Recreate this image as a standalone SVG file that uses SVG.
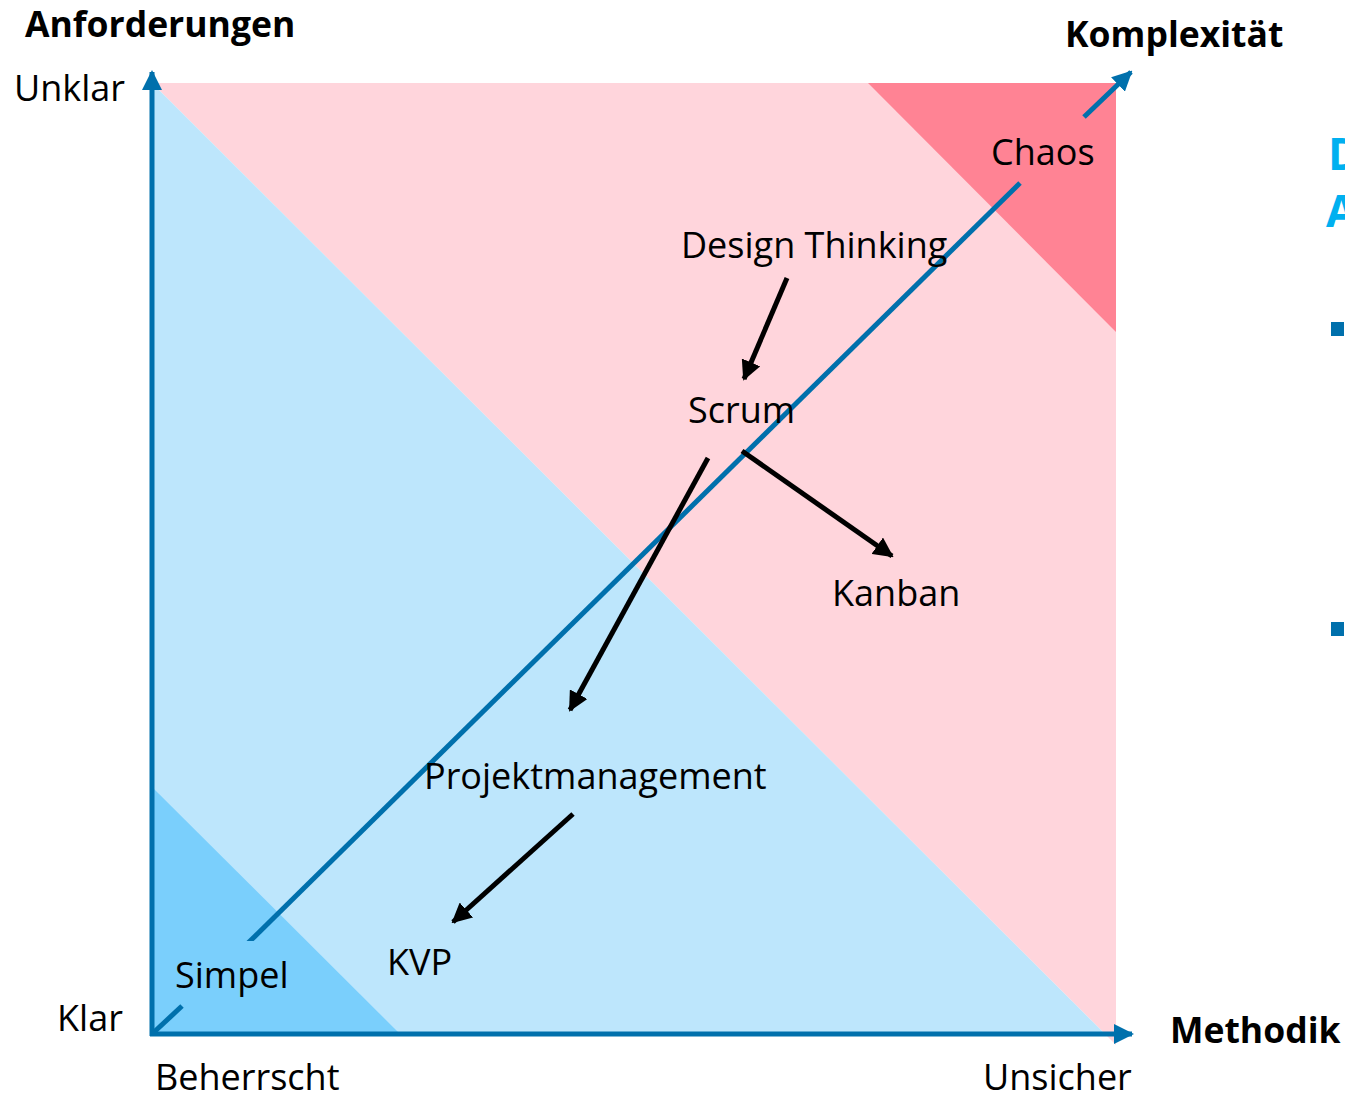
<svg xmlns="http://www.w3.org/2000/svg" width="1345" height="1098" viewBox="0 0 1345 1098">
<style>
.t{font-family:"Open Sans","Noto Sans",sans-serif;font-size:36px;fill:#000}
.b{font-family:"Open Sans","Noto Sans",sans-serif;font-size:35.5px;font-weight:bold;fill:#000}
.ax{stroke:#0070AC;stroke-width:5;fill:none}
.ar{stroke:#000;stroke-width:5;fill:none}
</style>
<defs>
<marker id="ba" viewBox="0 0 10 10" refX="9" refY="5" markerWidth="4" markerHeight="4" orient="auto" markerUnits="strokeWidth"><path d="M0,0 L10,5 L0,10 z" fill="#0070AC"/></marker>
<marker id="ka" viewBox="0 0 10 10" refX="9" refY="5" markerWidth="4" markerHeight="4" orient="auto" markerUnits="strokeWidth"><path d="M0,0 L10,5 L0,10 z" fill="#000"/></marker>
<clipPath id="cl"><rect x="0" y="0" width="1345" height="941"/></clipPath>
</defs>
<g id="background">
<polygon points="152,83 1116,83 1116,1045" fill="#FFD5DC"/>
<polygon points="152,83 1105,1034 152,1034" fill="#BDE6FC"/>
<polygon points="868,83 1116,83 1116,332" fill="#FF8394"/>
<polygon points="152,787 152,1034 400,1034" fill="#7ACFFC"/>
</g>
<g id="connectors">
<line class="ax" x1="152" y1="1036" x2="152" y2="72" marker-end="url(#ba)"/>
<line class="ax" x1="150" y1="1034" x2="1132" y2="1034" marker-end="url(#ba)"/>
<line class="ax" x1="152" y1="1034" x2="182" y2="1006"/>
<line class="ax" x1="245" y1="946" x2="1020" y2="183" clip-path="url(#cl)"/>
<line class="ax" x1="1084" y1="117" x2="1131" y2="72" marker-end="url(#ba)"/>
<line class="ar" x1="787" y1="278" x2="744" y2="379" marker-end="url(#ka)"/>
<line class="ar" x1="708" y1="458" x2="570" y2="710" marker-end="url(#ka)"/>
<line class="ar" x1="742" y1="451" x2="892" y2="556" marker-end="url(#ka)"/>
<line class="ar" x1="573" y1="814" x2="453" y2="922" marker-end="url(#ka)"/>
</g>
<g id="axis-labels">
<text class="b" x="25" y="37">Anforderungen</text>
<text class="b" x="1065" y="47">Komplexität</text>
<text class="b" x="1170" y="1043">Methodik</text>
<text class="t" x="14" y="101">Unklar</text>
<text class="t" x="57" y="1031">Klar</text>
<text class="t" x="155" y="1090">Beherrscht</text>
<text class="t" x="983" y="1090">Unsicher</text>
</g>
<g id="node-chaos"><text class="t" x="991" y="165">Chaos</text></g>
<g id="node-design-thinking"><text class="t" x="681" y="258">Design Thinking</text></g>
<g id="node-scrum"><text class="t" x="688" y="423">Scrum</text></g>
<g id="node-kanban"><text class="t" x="832" y="606">Kanban</text></g>
<g id="node-projektmanagement"><text class="t" x="424" y="789">Projektmanagement</text></g>
<g id="node-kvp"><text class="t" x="387" y="975">KVP</text></g>
<g id="node-simpel"><text class="t" x="175" y="988">Simpel</text></g>
<g id="side-text">
<text font-family="Open Sans, Noto Sans, sans-serif" font-size="44" font-weight="bold" fill="#00B0F0" x="1328" y="170">D</text>
<text font-family="Open Sans, Noto Sans, sans-serif" font-size="44" font-weight="bold" fill="#00B0F0" x="1326" y="227">A</text>
<rect x="1331" y="322" width="13" height="14" fill="#0070AC"/>
<rect x="1331" y="622" width="13" height="14" fill="#0070AC"/>
</g>
</svg>
